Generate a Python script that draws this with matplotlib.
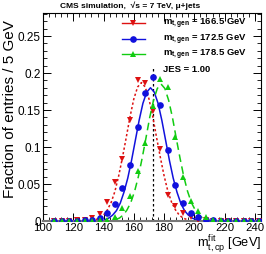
import numpy as np
import matplotlib
matplotlib.use("Agg")
import matplotlib.pyplot as plt
from matplotlib.ticker import MultipleLocator

plt.rcParams['font.family'] = ['Liberation Sans', 'DejaVu Sans']
plt.rcParams['mathtext.fontset'] = 'custom'
plt.rcParams['mathtext.rm'] = 'Liberation Sans'
plt.rcParams['mathtext.it'] = 'Liberation Sans:italic'
plt.rcParams['mathtext.bf'] = 'Liberation Sans:bold'

# bin centres of the 5 GeV histogram
bin_centres = np.arange(107.5, 245, 5)

# fraction of entries per bin
frac_166 = [0, 0, 0, 0.001, 0.002, 0.004, 0.010, 0.026, 0.053, 0.084, 0.137, 0.190, 0.187, 0.149,
            0.097, 0.035, 0.020, 0.011, 0.005, 0.002, 0.001, 0, 0, 0, 0, 0, 0, 0]
frac_172 = [0, 0, 0, 0, 0.001, 0.002, 0.004, 0.011, 0.023, 0.044, 0.076, 0.127, 0.173, 0.194,
            0.157, 0.096, 0.048, 0.024, 0.011, 0.005, 0.002, 0.001, 0, 0, 0, 0, 0, 0]
frac_178 = [0, 0, 0, 0, 0, 0, 0.001, 0.002, 0.005, 0.018, 0.034, 0.067, 0.106, 0.156,
            0.192, 0.181, 0.114, 0.060, 0.027, 0.014, 0.005, 0.002, 0.001, 0, 0, 0, 0, 0]

# fitted curves, sampled every 2.5 GeV around each peak
fit_x_166 = np.arange(135, 195.1, 2.5)
fit_y_166 = [0.002, 0.004, 0.008, 0.015, 0.025, 0.040, 0.061, 0.086, 0.113, 0.141, 0.165, 0.181, 0.187,
             0.181, 0.165, 0.141, 0.113, 0.086, 0.061, 0.040, 0.025, 0.015, 0.008, 0.004, 0.002]
fit_x_172 = np.arange(141, 201.1, 2.5)
fit_y_172 = [0.002, 0.004, 0.008, 0.014, 0.024, 0.039, 0.058, 0.082, 0.109, 0.136, 0.159, 0.174, 0.180,
             0.174, 0.159, 0.136, 0.109, 0.082, 0.058, 0.039, 0.024, 0.014, 0.008, 0.004, 0.002]
fit_x_178 = np.arange(148, 208.1, 2.5)
fit_y_178 = [0.002, 0.004, 0.008, 0.015, 0.025, 0.040, 0.060, 0.085, 0.112, 0.140, 0.163, 0.179, 0.185,
             0.179, 0.163, 0.140, 0.112, 0.085, 0.060, 0.040, 0.025, 0.015, 0.008, 0.004, 0.002]

labels = [r'$\mathbf{m_{t,gen}}$ = 166.5 GeV',
          r'$\mathbf{m_{t,gen}}$ = 172.5 GeV',
          r'$\mathbf{m_{t,gen}}$ = 178.5 GeV']
colors = ['#dd1111', '#1111dd', '#11cc11']
markers = ['v', 'o', '^']
styles = [(0, (1.5, 1.5)), '-', (0, (5, 3))]

fig = plt.figure(figsize=(2.66, 2.55), dpi=100)
ax = fig.add_axes([43/266, 33/255, 218/266, 208/255])

ax.plot([172.5, 172.5], [0, 0.21], color='black', lw=0.9, ls=(0, (2, 2)), zorder=1)

series = [(frac_166, fit_x_166, fit_y_166), (frac_172, fit_x_172, fit_y_172),
          (frac_178, fit_x_178, fit_y_178)]
for (pts, fx, fy), c, m, s in zip(series, colors, markers, styles):
    ax.plot(fx, fy, color=c, ls=s, lw=1.1, zorder=2)
    ax.plot(bin_centres, pts, ls='none', marker=m, color=c, ms=4.8, mew=0, zorder=3)

ax.set_xlim(100, 244)
ax.set_ylim(0, 0.281)
ax.xaxis.set_major_locator(MultipleLocator(20))
ax.xaxis.set_minor_locator(MultipleLocator(4))
ax.yaxis.set_major_locator(MultipleLocator(0.05))
ax.yaxis.set_minor_locator(MultipleLocator(0.01))
ax.set_yticks([0, 0.05, 0.1, 0.15, 0.2, 0.25])
ax.set_yticklabels(['0', '0.05', '0.1', '0.15', '0.2', '0.25'])
ax.tick_params(which='both', direction='in', top=True, right=True, labelsize=8.5, pad=1.5)
ax.tick_params(axis='x', pad=0.5, labelsize=8.2)
ax.tick_params(which='major', length=6, width=0.7)
ax.tick_params(which='minor', length=3, width=0.6)
for sp in ax.spines.values():
    sp.set_linewidth(0.8)
ax.spines['bottom'].set_color('#777777')
ax.spines['bottom'].set_linewidth(1.5)

ax.text(-0.151, 0.97, 'Fraction of entries / 5 GeV', transform=ax.transAxes, rotation=90,
        ha='center', va='top', fontsize=11)
ax.text(1.0, -0.104, r'$\mathrm{m_{t,cp}^{fit}}$ [GeV]', transform=ax.transAxes,
        ha='right', va='center', fontsize=9.2)
fig.text(130/266, 1 - 6/255, 'CMS simulation,  \u221as = 7 TeV, \u03bc+jets',
         ha='center', va='center', fontsize=6, fontweight='bold')

# legend drawn by hand
rows = [0.950, 0.877, 0.804]
for y, lab, c, m in zip(rows, labels, colors, markers):
    ax.plot([0.362, 0.468], [y, y], color=c, lw=1.0, transform=ax.transAxes, clip_on=False)
    ax.plot([0.415], [y], marker=m, color=c, ms=4.8, mew=0, transform=ax.transAxes, clip_on=False)
    ax.text(0.55, y, lab, transform=ax.transAxes, ha='left', va='center', fontsize=6.8, fontweight='bold')
ax.text(0.55, 0.733, 'JES = 1.00', transform=ax.transAxes, ha='left', va='center',
        fontsize=6.8, fontweight='bold')

fig.savefig('out.png', dpi=100)
